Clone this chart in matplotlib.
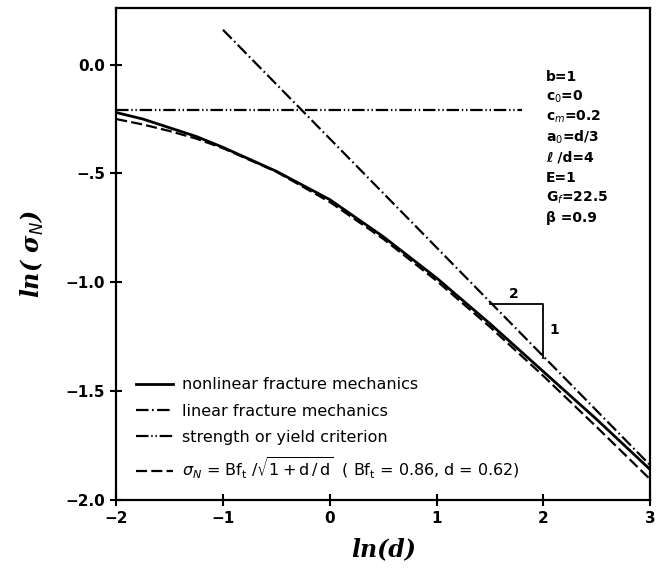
import matplotlib
matplotlib.use("Agg")
import matplotlib.pyplot as plt

plt.rcParams['lines.scale_dashes'] = False
plt.rcParams['mathtext.fontset'] = 'dejavusans'

# values
x_curve = [-2.0, -1.75, -1.5, -1.25, -1.0, -0.5, 0.0, 0.5, 1.0, 1.5, 2.0, 2.5, 3.0]
nonlinear = [-0.22, -0.25, -0.29, -0.33, -0.38, -0.49, -0.62, -0.79, -0.98, -1.19, -1.41, -1.63, -1.86]
size_law = [-0.25, -0.275, -0.305, -0.34, -0.384, -0.492, -0.631, -0.80, -0.993, -1.205, -1.43, -1.665, -1.905]

x_lefm = [-1.0, 3.0]
lefm = [0.16, -1.84]

x_strength = [-2.0, 1.8]
strength = [-0.21, -0.21]

# slope triangle 2:1
tri_x = [1.5, 2.0, 2.0]
tri_y = [-1.1, -1.1, -1.35]

params = ["b=1", "c$_0$=0", "c$_m$=0.2", "a$_0$=d/3", "ℓ /d=4", "E=1", "G$_f$=22.5", "β =0.9"]

fig = plt.figure(figsize=(6.6, 5.74), dpi=100)
ax = fig.add_axes([0.176, 0.129, 0.809, 0.857])

l1, = ax.plot(x_curve, nonlinear, color='black', lw=2.0)
l2, = ax.plot(x_lefm, lefm, color='black', lw=1.6, dashes=(9, 2.5, 1.2, 2.5))
l3, = ax.plot(x_strength, strength, color='black', lw=1.6, dashes=(9, 2, 1, 2, 1, 2))
l4, = ax.plot(x_curve, size_law, color='black', lw=1.6, dashes=(8, 3))
ax.plot(tri_x, tri_y, color='black', lw=1.3)

ax.text(1.72, -1.085, "2", fontsize=10, fontweight='bold', ha='center', va='bottom')
ax.text(2.06, -1.22, "1", fontsize=10, fontweight='bold', ha='left', va='center')

for i, p in enumerate(params):
    ax.text(0.805, 0.86 - i * 0.041, p, transform=ax.transAxes, fontsize=10,
            fontweight='bold', ha='left', va='center')

labels = ["nonlinear fracture mechanics",
          "linear fracture mechanics",
          "strength or yield criterion",
          r"$\sigma_N$ = Bf$_\mathregular{t}$ /$\sqrt{1+\mathregular{d\,/\,d}}$  ( Bf$_\mathregular{t}$ = 0.86, d = 0.62)"]
ax.legend([l1, l2, l3, l4], labels, loc='upper left', bbox_to_anchor=(0.025, 0.262),
          frameon=False, fontsize=11.5, handlelength=2.3, handletextpad=0.6,
          labelspacing=0.7, borderaxespad=0)

ax.set_xlim(-2, 3)
ax.set_ylim(-2.0, 0.26)
ax.set_xticks([-2, -1, 0, 1, 2, 3])
ax.set_xticklabels(["−2", "−1", "0", "1", "2", "3"])
ax.set_yticks([-2.0, -1.5, -1.0, -0.5, 0.0])
ax.set_yticklabels(["−2.0", "−1.5", "−1.0", "−.5", "0.0"])
ax.tick_params(direction='inout', length=9, width=1.5, labelsize=11)
for lab in ax.get_xticklabels() + ax.get_yticklabels():
    lab.set_fontweight('bold')
for s in ax.spines.values():
    s.set_linewidth(1.6)

ax.set_xlabel("ln(d)", fontsize=17, fontstyle='italic', fontweight='bold',
              fontfamily='DejaVu Serif', labelpad=8)
ax.set_ylabel("ln( σ$_N$)", fontsize=17, fontstyle='italic', fontweight='bold',
              fontfamily='DejaVu Serif', labelpad=14)

fig.savefig("out.png", dpi=100)
